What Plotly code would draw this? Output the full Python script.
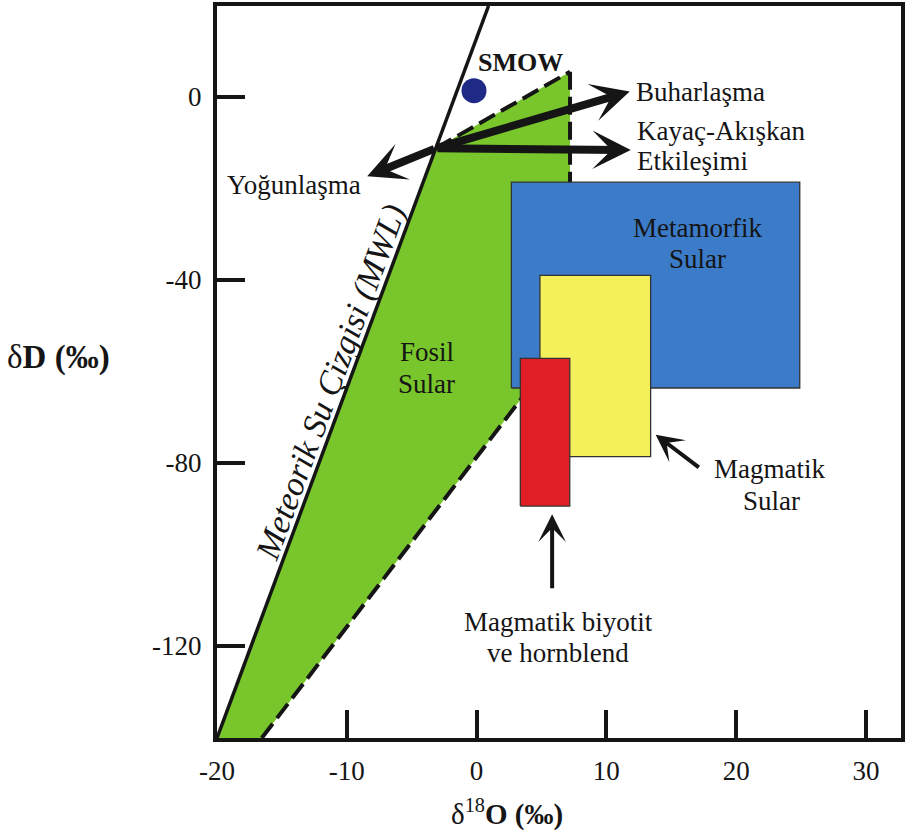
import plotly.graph_objects as go

# ---------------- data ----------------
x_ticks = [-20, -10, 0, 10, 20, 30]
x_ticktext = ["-20", "-10", "0", "10", "20", "30"]
y_ticks = [0, -40, -80, -120]
y_ticktext = ["0", "-40", "-80", "-120"]

# Meteoric water line (MWL)
mwl_x = [-20.0, 0.92]
mwl_y = [-140.2, 19.8]

# Fossil waters field
fosil_x = [-20.0, -3.14, 7.20, 7.20, -16.55]
fosil_y = [-140.2, -11.3, 5.45, -52.1, -140.2]

# dashed borders of the fossil field
dash_upper_x = [-3.14, 7.20]
dash_upper_y = [-11.3, 5.45]
dash_vert_x = [7.20, 7.20]
dash_vert_y = [5.45, -52.1]
dash_lower_x = [-16.55, 7.20]
dash_lower_y = [-140.2, -52.1]

# boxes: [x0, x1], [y0, y1]
meta_x = [2.68, 24.9]
meta_y = [-63.7, -18.7]
magma_x = [4.88, 13.41]
magma_y = [-78.7, -39.1]
bio_x = [3.37, 7.18]
bio_y = [-89.5, -57.2]

# SMOW point
smow_x = [-0.2]
smow_y = [1.3]

# process arrows: origin and tips
arrow_origin = (-3.14, -11.3)
buhar_tip = (11.8, 1.1)
kayac_tip = (11.88, -11.7)
yogun_tip = (-8.43, -17.4)
magma_arrow = ((17.24, -81.3), (13.8, -73.9))   # tail, tip
bio_arrow = ((5.82, -107.8), (5.82, -91.3))     # tail, tip

FONT = "Liberation Serif, Times New Roman, serif"
INK = "#151515"

def box(xs, ys):
    return ([xs[0], xs[1], xs[1], xs[0], xs[0]],
            [ys[0], ys[0], ys[1], ys[1], ys[0]])

fig = go.Figure()

# fossil waters (green)
fig.add_trace(go.Scatter(x=fosil_x, y=fosil_y, fill="toself", mode="none",
                         fillcolor="#78c62b", hoverinfo="skip", showlegend=False))
# dashed borders
for dx, dy in [(dash_upper_x, dash_upper_y), (dash_vert_x, dash_vert_y),
               (dash_lower_x, dash_lower_y)]:
    fig.add_trace(go.Scatter(x=dx, y=dy, mode="lines",
                             line=dict(color=INK, width=4, dash="18px,7px"),
                             hoverinfo="skip", showlegend=False))

# boxes
for xs, ys, col in [(meta_x, meta_y, "#3b7bc8"),
                    (magma_x, magma_y, "#f3f05b"),
                    (bio_x, bio_y, "#e11d25")]:
    bx, by = box(xs, ys)
    fig.add_trace(go.Scatter(x=bx, y=by, fill="toself", mode="lines",
                             fillcolor=col, line=dict(color="#333333", width=1.3),
                             hoverinfo="skip", showlegend=False))

# MWL
fig.add_trace(go.Scatter(x=mwl_x, y=mwl_y, mode="lines",
                         line=dict(color=INK, width=3.5),
                         hoverinfo="skip", showlegend=False))

# SMOW point
fig.add_trace(go.Scatter(x=smow_x, y=smow_y, mode="markers",
                         marker=dict(size=25, color="#1e2a86"),
                         hoverinfo="skip", showlegend=False))

annotations = []

def arrow(tail, tip, width, size):
    annotations.append(dict(x=tip[0], y=tip[1], ax=tail[0], ay=tail[1],
                            xref="x", yref="y", axref="x", ayref="y",
                            text="", showarrow=True, arrowhead=3,
                            arrowwidth=width, arrowsize=size, arrowcolor=INK,
                            standoff=0, startstandoff=0))

arrow(arrow_origin, buhar_tip, 8, 0.8)
arrow(arrow_origin, kayac_tip, 8, 0.8)
arrow(arrow_origin, yogun_tip, 8, 0.8)
arrow(magma_arrow[0], magma_arrow[1], 4, 1.15)
arrow(bio_arrow[0], bio_arrow[1], 4, 1.15)

def label(text, x, y, xanchor="center", size=27, angle=0, **kw):
    annotations.append(dict(text=text, x=x, y=y, xref="x", yref="y",
                            xanchor=xanchor, yanchor="middle", showarrow=False,
                            textangle=angle,
                            font=dict(family=FONT, size=size, color=INK), **kw))

label("<b>SMOW</b>", 3.37, 7.4, size=26)
label("Buharlaşma", 12.1, 1.1, xanchor="left")
label("Kayaç-Akışkan", 12.18, -7.6, xanchor="left")
label("Etkileşimi", 12.18, -14.1, xanchor="left")
label("Yoğunlaşma", -14.03, -19.3)
label("Metamorfik", 17.0, -28.7)
label("Sular", 17.0, -35.6)
label("Fosil", -3.83, -55.9)
label("Sular", -3.83, -62.8)
label("Magmatik", 22.6, -81.5)
label("Sular", 22.76, -88.4)
label("Magmatik biyotit", 6.28, -114.8)
label("ve hornblend", 6.28, -121.6)
label("<i>Meteorik Su Çizgisi (MWL)</i>", -11.2, -62.4, size=34, angle=-69.8)

# axis titles
annotations.append(dict(text="δ<sup>18</sup><b>O (‰)</b>", x=0.424, y=-0.102,
                        xref="paper", yref="paper", xanchor="center", yanchor="middle",
                        showarrow=False, font=dict(family=FONT, size=29, color=INK)))
annotations.append(dict(text="δ<b>D (‰)</b>", x=-0.232, y=0.52,
                        xref="paper", yref="paper", xanchor="center", yanchor="middle",
                        showarrow=False, font=dict(family=FONT, size=33, color=INK)))

axis_common = dict(showgrid=False, zeroline=False, showline=True, linewidth=4,
                   linecolor=INK, mirror=True, ticks="inside", ticklen=28,
                   tickwidth=4, tickcolor=INK,
                   tickfont=dict(family=FONT, size=27, color=INK))

fig.update_layout(
    width=907, height=831,
    margin=dict(l=217, r=2, t=2, b=93),
    paper_bgcolor="white", plot_bgcolor="white",
    showlegend=False,
    xaxis=dict(range=[-20, 32.7], tickvals=x_ticks, ticktext=x_ticktext,
               ticklabelstandoff=6, **axis_common),
    yaxis=dict(range=[-140.2, 19.8], tickvals=y_ticks, ticktext=y_ticktext,
               ticklabelstandoff=6, **axis_common),
    annotations=annotations,
)

fig.write_html("out.html")
